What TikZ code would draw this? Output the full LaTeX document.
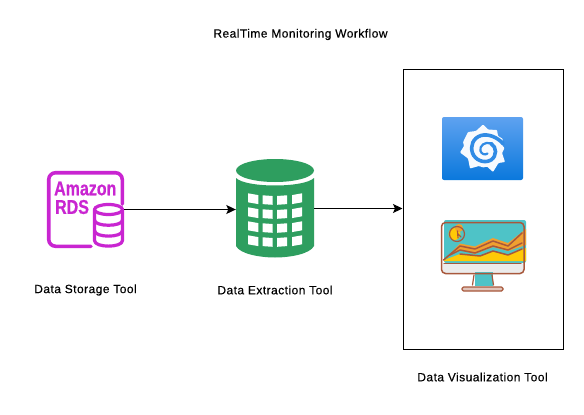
\documentclass[tikz,border=0pt]{standalone}
\usepackage{fontspec}
\setmainfont{Liberation Sans}
\usetikzlibrary{arrows.meta}
\definecolor{rdsc}{HTML}{C925D1}
\definecolor{grn}{HTML}{2E9E5F}
\definecolor{brn}{HTML}{A8583C}
\definecolor{tealc}{HTML}{4EC3C7}
\definecolor{yel}{HTML}{FFC907}
\definecolor{org}{HTML}{F0A030}
\definecolor{gtop}{HTML}{5EA2F0}
\definecolor{gbot}{HTML}{0A78DC}
\tikzset{
  lbl/.style={font=\fontsize{12}{14}\selectfont\addfontfeature{LetterSpace=3.8,FakeBold=0.25},inner sep=0pt,text=black},
  conn/.style={draw=black,line width=1pt,-{Stealth[length=9.5pt,width=9pt,inset=2pt]}},
  holder/.style={inner sep=0pt,draw=none},
  rdsl/.style={draw=rdsc,line width=3.6pt,line cap=round,line join=round},
  rdst/.style={inner sep=0pt,text=rdsc,font=\fontsize{20}{20}\selectfont\bfseries\addfontfeature{FakeBold=0.6},xscale=.8,anchor=west},
  brnl/.style={draw=brn,line width=1.5pt,line join=round,line cap=round},
}
\begin{document}
\begin{tikzpicture}[x=1pt,y=-1pt]
\useasboundingbox[fill=white] (0,0) rectangle (584,415);
% nodes
\node[lbl] (title) at (300.5,34.5) {RealTime Monitoring Workflow};
\node[lbl] (l1) at (85.5,290) {Data Storage Tool};
\node[lbl] (l2) at (275,290) {Data Extraction Tool};
\node[lbl] (l3) at (482.5,377) {Data Visualization Tool};
\node[holder,minimum width=77pt,minimum height=78pt] (rds) at (85.5,209.5) {};
\node[holder,minimum width=78pt,minimum height=98pt] (ext) at (275,208.5) {};
\node[draw=black,line width=1pt,inner sep=0pt,minimum width=160pt,minimum height=279.5pt] (vis) at (483,209.3) {};
% RDS icon
\draw[rdsl,rounded corners=7pt] (91,246.3) -- (48.7,246.3) -- (48.7,172.7) -- (122.3,172.7) -- (122.3,204);
\node[rdst] at (54,188.5) {Amazon};
\node[rdst] at (55,207) {RDS};
\draw[rdsl,line width=3.2pt,fill=white] (94.5,209.5) -- (94.5,240.5) .. controls (94.5,248) and (122.5,248) .. (122.5,240.5) -- (122.5,209.5);
\draw[rdsl,line width=3.2pt,fill=white] (108.5,209.5) ellipse[x radius=14,y radius=5];
\draw[rdsl,line width=3.2pt] (94.5,220) .. controls (94.5,227) and (122.5,227) .. (122.5,220);
\draw[rdsl,line width=3.2pt] (94.5,230.5) .. controls (94.5,238) and (122.5,238) .. (122.5,230.5);
% extraction icon
\fill[grn] (275,170.5) ellipse[x radius=39,y radius=11.5];
\fill[grn] (236,178) .. controls (246,188) and (304,188) .. (314,178) -- (314,246) .. controls (310,254) and (290,257.5) .. (275,257.5) .. controls (260,257.5) and (240,254) .. (236,246) -- cycle;
\foreach \r in {0,1,2,3} {
  \pgfmathsetmacro{\yy}{193.3+\r*14}
  \fill[white] (248,\yy) -- (258.3,\yy+1.8) -- (258.3,\yy+10.8) -- (248,\yy+9) -- cycle;
  \fill[white] (262.5,\yy+2) -- (272.5,\yy+2.7) -- (272.5,\yy+11.5) -- (262.5,\yy+10.8) -- cycle;
  \fill[white] (277,\yy+2.7) -- (287,\yy+2) -- (287,\yy+10.8) -- (277,\yy+11.5) -- cycle;
  \fill[white] (292,\yy+1.8) -- (302,\yy) -- (302,\yy+9) -- (292,\yy+10.8) -- cycle;
}
% grafana icon
\shade[top color=gtop,bottom color=gbot,rounded corners=2pt] (442,117) rectangle (523,180);
\fill[white!95!gtop,rounded corners=.8pt] (483,124.5) -- (488,129.5) -- (497,130) -- (498,136) -- (503,139) -- (501,144) -- (504.5,148) -- (502,153) -- (505,162) -- (498.5,163) -- (493,172) -- (487,166.5) -- (483,167.5) -- (479,166) -- (470,168.5) -- (468,158.5) -- (460,152.5) -- (464,146) -- (463,142) -- (468,132) -- (476,131) -- cycle;
\draw[draw=gbot!55!gtop,line width=3.6pt,line cap=round] (503,143.5) .. controls (497,137) and (488,133.5) .. (481,135.5) .. controls (473,138) and (470,146) .. (472.5,153) .. controls (475,160) and (484,164) .. (491,160) .. controls (497,156) and (497,147) .. (491,143.5);
\draw[draw=gbot!55!gtop,line width=2.2pt,line cap=round] (491,143.5) .. controls (485,141) and (479,146) .. (480.5,151) .. controls (481.5,154) and (485,155.5) .. (487.5,153.5);
% monitor icon
\fill[tealc,rounded corners=2pt] (444,220) rectangle (526,263);
\fill[org] (444,260) -- (460,243.5) -- (475,246.5) -- (493,238) -- (508,243) -- (526,229) -- (526,245) -- (508,251) -- (493,247) -- (475,254) -- (460,250) -- (450,255) -- cycle;
\fill[yel] (444,260) -- (460,254) -- (480,256) -- (493,251) -- (508,255) -- (526,248) -- (526,261) -- (444,261) -- cycle;
\fill[yel] (454.5,234) circle[radius=6];
\fill[org] (459,228) circle[radius=4];
\fill[white!92!black] (443,264) rectangle (523,273);
\fill[tealc] (475,272) rectangle (493,286);
\draw[brnl,fill=none,rounded corners=4pt] (441.5,222.5) rectangle (524,273.5);
\draw[brnl,line width=1.2pt] (457,234) circle[radius=7.5];
\draw[brnl,line width=1.2pt] (457.5,231) -- (458,238) (458,234) -- (461,237);
\draw[brnl] (443.5,260) -- (460,246) -- (475,249) -- (493,241) -- (508,246) -- (522,233);
\draw[brnl] (450,255) -- (460,250) -- (475,253) -- (493,246) -- (508,250) -- (522,243);
\draw[brnl] (460,254) -- (480,256) -- (493,251) -- (508,255) -- (522,249);
\draw[brnl,line width=1.2pt] (444,263.5) -- (521,263.5);
\draw[brnl,line width=1.2pt] (474,275) -- (472.5,285) (492,275) -- (493.5,285);
\draw[brnl,line width=1.2pt,fill=brn!35!white,rounded corners=1.5pt] (462,287) rectangle (503,291);
% connectors
\draw[conn] (rds.east |- 0,209.5) -- (ext.west |- 0,209.5);
\draw[conn] (ext.east |- 0,208.5) -- (vis.west |- 0,208.5);
\end{tikzpicture}
\end{document}
